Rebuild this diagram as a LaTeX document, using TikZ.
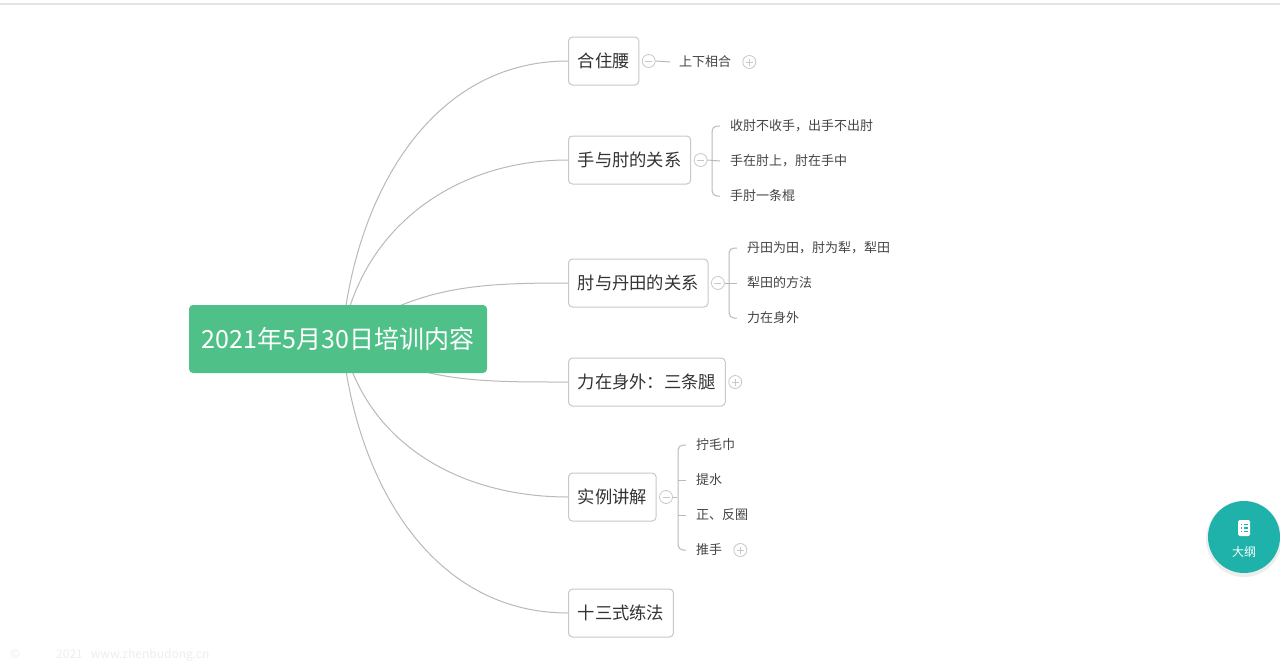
\documentclass[tikz,border=0pt]{standalone}
\usepackage{fontspec}
\newfontfamily\cjk{Noto Sans CJK SC}
\usepackage{tikz}
\usetikzlibrary{positioning,backgrounds}
\usepackage{xcolor}
\definecolor{rootgreen}{RGB}{80,192,137}
\definecolor{linegray}{RGB}{185,185,185}
\definecolor{boxgray}{RGB}{200,200,200}
\definecolor{topicgray}{RGB}{51,51,51}
\definecolor{leafgray}{RGB}{68,68,68}
\definecolor{btnteal}{RGB}{31,178,170}
\definecolor{wmgray}{RGB}{238,238,238}
\definecolor{rulegray}{RGB}{228,228,228}

\begin{document}
\begin{tikzpicture}[x=1pt,y=-1pt,
rootbox/.style={fill=rootgreen,rounded corners=4pt,minimum width=298pt,minimum height=68pt,
  text=white,font={\cjk\fontsize{25}{30}\selectfont}},
topic/.style={anchor=west,draw=boxgray,fill=white,line width=1pt,rounded corners=4pt,
  minimum height=48pt,inner xsep=9.2pt,text=topicgray,font={\cjk\fontsize{17.3}{20}\selectfont}},
leaf/.style={anchor=west,inner sep=0pt,text=leafgray,font={\cjk\fontsize{13}{15}\selectfont}},
fold/.style={circle,draw=boxgray,fill=white,line width=0.8pt,minimum size=13pt,inner sep=0pt,
  path picture={\draw[boxgray,line width=0.8pt] (path picture bounding box.center) +(-3.5pt,0) -- +(3.5pt,0);}},
unfold/.style={circle,draw=boxgray,fill=white,line width=0.8pt,minimum size=13pt,inner sep=0pt,
  path picture={\draw[boxgray,line width=0.8pt] (path picture bounding box.center) +(-3.5pt,0) -- +(3.5pt,0)
    (path picture bounding box.center) +(0,-3.5pt) -- +(0,3.5pt);}},
branch/.style={draw=linegray,line width=1pt}]
\useasboundingbox (0,0) rectangle (1280,672);

% root and main topics
\node[rootbox] (root) at (338,339) {2021年5月30日培训内容};
\coordinate (hub) at (342,338);
\node[topic] (t1) at (568,61) {合住腰};
\node[topic] (t2) at (568,160) {手与肘的关系};
\node[topic] (t3) at (568,283) {肘与丹田的关系};
\node[topic] (t4) at (568,382) {力在身外：三条腿};
\node[topic] (t5) at (568,497) {实例讲解};
\node[topic] (t6) at (568,613) {十三式练法};

\begin{scope}[on background layer]
\fill[white] (0,0) rectangle (1280,672);
\fill[rulegray] (0,2.5) rectangle (1280,4.5);
\path[branch]
(hub) edge[out=85,in=180] (t1.west)
(hub) edge[out=80,in=180] (t2.west)
(hub) edge[out=35,in=180] (t3.west)
(hub) edge[out=-30,in=180] (t4.west)
(hub) edge[out=-78,in=180] (t5.west)
(hub) edge[out=-85,in=180] (t6.west);
\end{scope}

% fold buttons
\node[fold,right=2.5pt of t1] (m1) {};
\node[fold,right=2.5pt of t2] (m2) {};
\node[fold,right=2.5pt of t3] (m3) {};
\node[unfold,right=2.5pt of t4] (p4) {};
\node[fold,right=2.5pt of t5] (m5) {};

% leaves
\node[leaf] (l11) at (679,62) {上下相合};
\node[unfold,right=11pt of l11] (p11) {};
\draw[branch] (m1.east) -- ([xshift=-9pt]l11.west);

\node[leaf] (l21) at (730,126) {收肘不收手，出手不出肘};
\node[leaf] (l22) at (730,161) {手在肘上，肘在手中};
\node[leaf] (l23) at (730,196) {手肘一条棍};
\draw[branch,rounded corners=5pt] ([xshift=-10pt]l21.west) -| ([xshift=-18pt]l22.west) |- ([xshift=-10pt]l23.west);
\draw[branch] (m2.east) -- ([xshift=-10pt]l22.west);

\node[leaf] (l31) at (747,248) {丹田为田，肘为犁，犁田};
\node[leaf] (l32) at (747,283) {犁田的方法};
\node[leaf] (l33) at (747,318) {力在身外};
\draw[branch,rounded corners=5pt] ([xshift=-10pt]l31.west) -| ([xshift=-18pt]l32.west) |- ([xshift=-10pt]l33.west);
\draw[branch] (m3.east) -- ([xshift=-10pt]l32.west);

\node[leaf] (l51) at (696,445) {拧毛巾};
\node[leaf] (l52) at (696,480) {提水};
\node[leaf] (l53) at (696,515) {正、反圈};
\node[leaf] (l54) at (696,550) {推手};
\node[unfold,right=11pt of l54] (p54) {};
\draw[branch,rounded corners=5pt] ([xshift=-10pt]l51.west) -| ([xshift=-18pt]l52.west) |- ([xshift=-10pt]l54.west);
\draw[branch] ([xshift=-18pt]l52.west) -- ([xshift=-10pt]l52.west);
\draw[branch] ([xshift=-18pt]l53.west) -- ([xshift=-10pt]l53.west);
\draw[branch] (m5.east) -- ++(4.5,0);

% outline button
\fill[black,opacity=0.07] (1244,539) circle (38);
\node[circle,fill=btnteal,minimum size=72pt,inner sep=0pt] (btn) at (1244,537) {};
\fill[white,rounded corners=1.5pt] (1238,520) rectangle (1250,536);
\foreach \y in {524.5,528,531.5}{
  \fill[btnteal] (1240.5,\y-0.6) rectangle (1242,\y+0.6);
  \fill[btnteal] (1243.5,\y-0.6) rectangle (1247.5,\y+0.6);
}
\node[text=white,font={\cjk\fontsize{12}{14}\selectfont}] (btnlabel) at (1244,552) {大纲};

% watermark
\node[anchor=west,inner sep=0pt,text=wmgray,font={\cjk\fontsize{12}{14}\selectfont}] (wm) at (10,655) {©\hspace{36pt}2021\hspace{8pt}www.zhenbudong.cn};
\end{tikzpicture}
\end{document}
